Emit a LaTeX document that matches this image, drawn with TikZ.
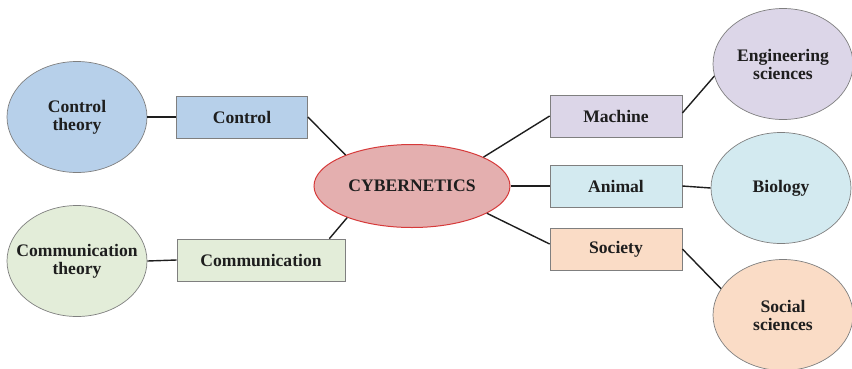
\documentclass[tikz,border=0pt]{standalone}
\usepackage{fontspec}
\setmainfont{Liberation Serif}
\usepackage{xcolor}
\usepackage{tikz}
\usetikzlibrary{calc,shapes.geometric}
\definecolor{ctrlblue}{HTML}{B7D0EA}
\definecolor{commgreen}{HTML}{E3EDD9}
\definecolor{cybfill}{HTML}{E4AFAF}
\definecolor{cybedge}{HTML}{D63A3A}
\definecolor{lilac}{HTML}{DCD6E8}
\definecolor{aqua}{HTML}{D3EAF0}
\definecolor{peach}{HTML}{FADCC6}
\definecolor{rim}{HTML}{7F7F7F}
\definecolor{ink}{HTML}{1E1E1E}
\tikzset{
  txt/.style={font=\fontsize{17.6}{18}\selectfont\bfseries,text=ink,align=center},
  field/.style={txt,ellipse,draw=rim,line width=.7pt,minimum width=140pt,minimum height=111pt,inner sep=0pt,inner xsep=-25pt},
  topic/.style={txt,rectangle,draw=rim,line width=.7pt,minimum height=42pt,inner sep=0pt},
  link/.style={draw=ink,line width=1.4pt}
}
\begin{document}
\begin{tikzpicture}[x=1pt,y=-1pt]
  \useasboundingbox (0,0) rectangle (852,368);
  % centre
  \node[txt,ellipse,draw=cybedge,line width=1pt,fill=cybfill,minimum width=196pt,minimum height=83pt,inner sep=0pt,inner xsep=-30pt] (cyb) at (412,186) {CYBERNETICS};
  % left side
  \node[topic,fill=ctrlblue,minimum width=131pt] (ctrl) at (242,117) {Control};
  \node[topic,fill=commgreen,minimum width=168pt] (comm) at (261,260) {Communication};
  \node[field,fill=ctrlblue] (ctrlth) at (77,117) {Control\\theory};
  \node[field,fill=commgreen] (commth) at (77,261) {Communication\\theory};
  % right side
  \node[topic,fill=lilac,minimum width=132pt] (mach) at (616,116) {Machine};
  \node[topic,fill=aqua,minimum width=132pt] (anim) at (616,186) {Animal};
  \node[topic,fill=peach,minimum width=132pt] (soc) at (616,249) {Society};
  \node[field,fill=lilac] (eng) at (783,64) {Engineering\\sciences};
  \node[field,fill=aqua] (bio) at (781,188) {Biology};
  \node[field,fill=peach] (socsci) at (783,315) {Social\\sciences};

  \draw[link] (ctrlth.east) -- (ctrl.west);
  \draw[link] (commth.east) -- (comm.west);
  \draw[link] (ctrl.east) -- (cyb.155);
  \draw[link] ($(comm.north east)+(-16,0)$) -- (cyb.206);
  \draw[link] (cyb.22) -- (mach.west);
  \draw[link] (cyb.east) -- (anim.west);
  \draw[link] (cyb.340) -- ($(soc.west)+(0,-5)$);
  \draw[link] ($(mach.east)+(0,-3)$) -- (eng.190);
  \draw[link] (anim.east) -- (bio.west);
  \draw[link] (soc.east) -- (socsci.157);
\end{tikzpicture}
\end{document}
